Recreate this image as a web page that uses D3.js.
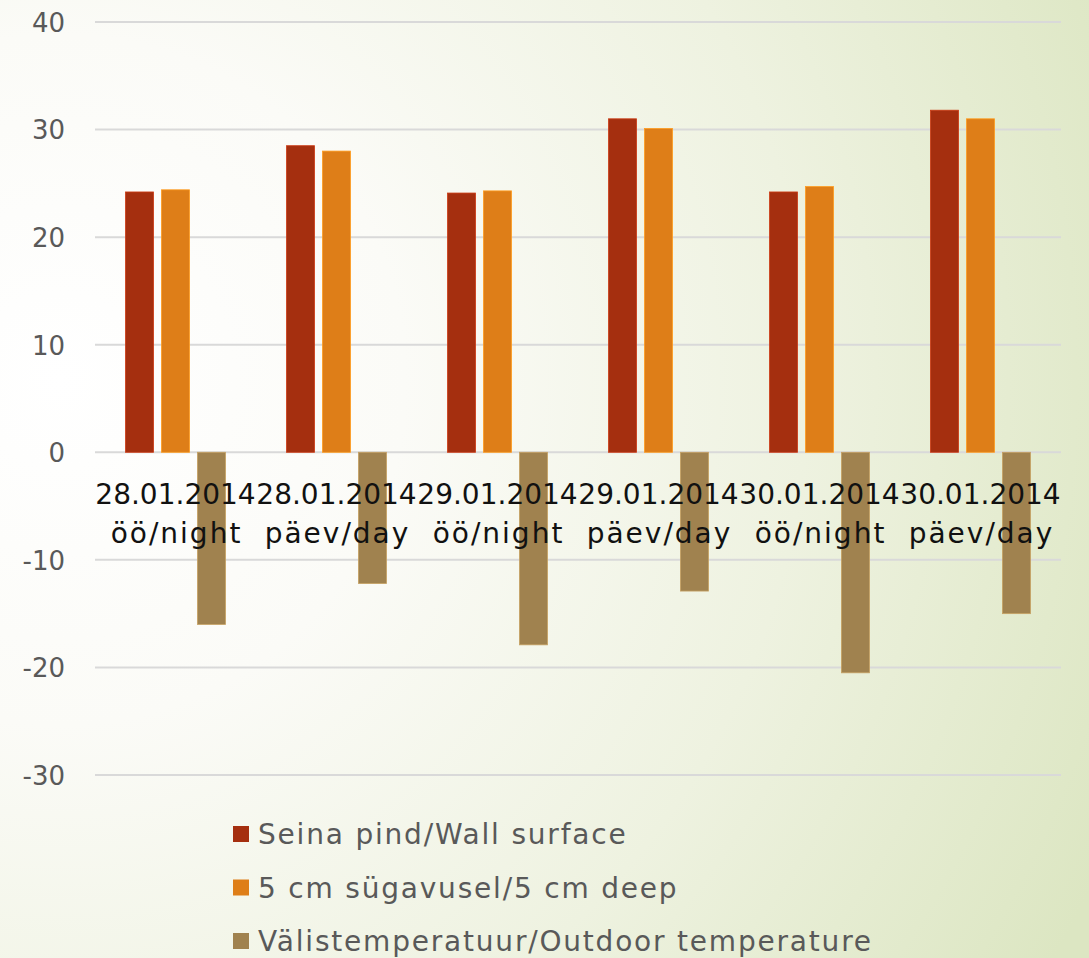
<!DOCTYPE html>
<html>
<head>
<meta charset="utf-8">
<script src="https://cdn.jsdelivr.net/npm/d3@7"></script>
<style>
  html, body { margin: 0; padding: 0; background: #fff; }
  svg { display: block; }
</style>
</head>
<body>
<svg id="chart" width="1089" height="958"></svg>
<script>
const categoryLine1 = ["28.01.2014", "28.01.2014", "29.01.2014", "29.01.2014", "30.01.2014", "30.01.2014"];
const categoryLine2 = ["öö/night", "päev/day", "öö/night", "päev/day", "öö/night", "päev/day"];
const seriesNames = ["Seina pind/Wall surface", "5 cm sügavusel/5 cm deep", "Välistemperatuur/Outdoor temperature"];
const wallSurface = [24.2, 28.5, 24.1, 31.0, 24.2, 31.8];
const deep5cm = [24.4, 28.0, 24.3, 30.1, 24.7, 31.0];
const outdoor = [-16.0, -12.2, -17.9, -12.9, -20.5, -15.0];
const yTicks = [-30, -20, -10, 0, 10, 20, 30, 40];
const seriesColors = ["#a52f0f", "#de7e18", "#a0824f"];

const allSeries = [wallSurface, deep5cm, outdoor];
const svg = d3.select("#chart");
const W = 1089, H = 958;

// background gradient
const defs = svg.append("defs");
const grad = defs.append("radialGradient").attr("id", "bg")
  .attr("gradientUnits", "userSpaceOnUse")
  .attr("cx", 60).attr("cy", 380).attr("r", 1150);
grad.append("stop").attr("offset", 0).attr("stop-color", "#ffffff");
grad.append("stop").attr("offset", 0.3).attr("stop-color", "#fbfbf7");
grad.append("stop").attr("offset", 0.65).attr("stop-color", "#eef2e0");
grad.append("stop").attr("offset", 1).attr("stop-color", "#dce6c2");
svg.append("rect").attr("width", W).attr("height", H).attr("fill", "url(#bg)");

const left = 95, right = 1061;
const y = d3.scaleLinear().domain([-30, 40]).range([775, 22]);
const x = d3.scaleBand().domain(d3.range(categoryLine1.length)).range([left, right]).padding(0);
const groupPad = (x.bandwidth() - 100) / 2;
const xs = d3.scaleBand().domain(d3.range(allSeries.length))
  .range([groupPad, x.bandwidth() - groupPad]).paddingInner(0.22).paddingOuter(0);

// gridlines
svg.append("g").selectAll("line").data(yTicks).join("line")
  .attr("x1", left).attr("x2", right)
  .attr("y1", d => y(d)).attr("y2", d => y(d))
  .attr("stroke", "#d9d9d9").attr("stroke-width", 2);

// y axis labels
const yAxis = d3.axisLeft(y).tickValues(yTicks).tickSize(0).tickPadding(0).tickFormat(d => String(d));
const yg = svg.append("g").attr("transform", "translate(65,0)").call(yAxis);
yg.select(".domain").remove();
yg.selectAll("text").attr("font-family", "DejaVu Sans").attr("font-size", 26)
  .attr("fill", "#595959").attr("dy", "0.36em");

// bars
allSeries.forEach((vals, si) => {
  svg.append("g").selectAll("rect").data(vals).join("rect")
    .attr("x", (d, i) => x(i) + xs(si))
    .attr("width", xs.bandwidth())
    .attr("y", d => y(Math.max(0, d)))
    .attr("height", d => Math.abs(y(d) - y(0)))
    .attr("fill", seriesColors[si])
    .attr("stroke", d3.color(seriesColors[si]).brighter(0.6))
    .attr("stroke-width", 0.8);
});

// category labels
const xl = svg.append("g");
categoryLine1.forEach((c, i) => {
  const cx = x(i) + x.bandwidth() / 2;
  xl.append("text").attr("x", cx).attr("y", 504).attr("text-anchor", "middle")
    .attr("font-family", "DejaVu Sans").attr("font-size", 28).attr("fill", "#111").text(c);
  xl.append("text").attr("x", cx + 1).attr("y", 543).attr("text-anchor", "middle")
    .attr("font-family", "DejaVu Sans").attr("font-size", 28).attr("letter-spacing", 2)
    .attr("fill", "#111").text(categoryLine2[i]);
});

// legend
const lg = svg.append("g");
seriesNames.forEach((n, i) => {
  const cy = 834 + i * 53.5;
  lg.append("rect").attr("x", 233).attr("y", cy - 8).attr("width", 16).attr("height", 16)
    .attr("fill", seriesColors[i]);
  lg.append("text").attr("x", 258).attr("y", cy).attr("dy", "0.36em")
    .attr("font-family", "DejaVu Sans").attr("font-size", 28).attr("letter-spacing", 1.8)
    .attr("fill", "#595959").text(n);
});
</script>
</body>
</html>
